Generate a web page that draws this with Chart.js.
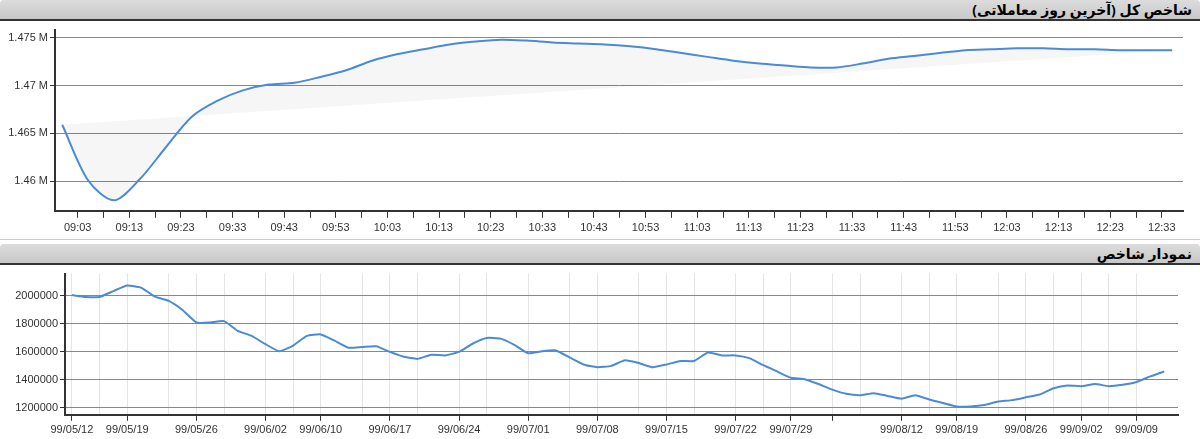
<!DOCTYPE html>
<html><head><meta charset="utf-8">
<script src="https://cdn.jsdelivr.net/npm/chart.js@4"></script>
<style>
body{margin:0;background:#fff;font-family:"Liberation Sans",Arial,sans-serif;width:1200px;height:439px;overflow:hidden}
.hdr{height:19px;background:linear-gradient(#dcdcdc,#c8c8c8);border-bottom:2px solid #333;border-radius:4px 4px 0 0;text-align:right;padding-right:8px;font:bold 14px "Noto Sans","DejaVu Sans",sans-serif;line-height:19px;color:#000;direction:rtl;box-sizing:border-box;height:21px}
.wrap{position:relative}
</style></head><body>
<div class="hdr">شاخص کل (آخرین روز معاملاتی)</div>
<div class="wrap" style="height:218px"><canvas id="c1" width="1200" height="218"></canvas></div>
<div style="height:4px;border-top:1px solid #ccc"></div>
<div class="hdr">نمودار شاخص</div>
<div class="wrap" style="height:175px"><canvas id="c2" width="1200" height="175"></canvas></div>
<script>
// Intraday (minutes since midnight, every 5 minutes from 09:00)
const intradayStartMin = 540;
const intradayStepMin = 5;
const intradayValues = [1465900,1460100,1458000,1460200,1463500,1466700,1468400,1469500,1470100,1470300,1470900,1471600,1472600,1473300,1473800,1474300,1474600,1474800,1474700,1474500,1474400,1474300,1474100,1473800,1473400,1473000,1472600,1472300,1472100,1471900,1471900,1472300,1472800,1473100,1473400,1473700,1473800,1473900,1473900,1473800,1473800,1473700,1473700,1473700];
const intradayTickStart = 543;

// Daily index
const dailyValues = [2007000,1993000,1993000,2035000,2075000,2060000,1995000,1965000,1900000,1810000,1810000,1820000,1750000,1715000,1655000,1605000,1645000,1715000,1725000,1680000,1630000,1635000,1640000,1600000,1565000,1550000,1580000,1575000,1600000,1660000,1700000,1695000,1650000,1590000,1605000,1610000,1560000,1510000,1490000,1500000,1540000,1520000,1490000,1510000,1535000,1535000,1595000,1575000,1575000,1555000,1505000,1460000,1415000,1405000,1370000,1330000,1300000,1290000,1305000,1285000,1265000,1290000,1260000,1235000,1210000,1210000,1220000,1245000,1255000,1275000,1295000,1340000,1360000,1355000,1370000,1355000,1365000,1385000,1425000,1460000];
const dailyTickIdx = [0,4,9,14,18,23,28,33,38,43,48,52,55,60,64,69,73,77];
const dailyTickLabels = ['99/05/12','99/05/19','99/05/26','99/06/02','99/06/10','99/06/17','99/06/24','99/07/01','99/07/08','99/07/15','99/07/22','99/07/29','','99/08/12','99/08/19','99/08/26','99/09/02','99/09/09'];
const dailyGridIdx = [2,7,11,16,21,25,30,36,41,45,50,57,62,67,71,75];

const fmtTime = m => String(Math.floor(m/60)).padStart(2,'0')+':'+String(m%60).padStart(2,'0');
const font = {family:'"Liberation Sans", Arial, sans-serif', size:11};
const pts = intradayValues.map((v,i)=>({x:intradayStartMin+i*intradayStepMin,y:v}));
const lastX = intradayStartMin+(intradayValues.length-1)*intradayStepMin;

new Chart(document.getElementById('c1'),{
  type:'line',
  data:{datasets:[
    {data:pts,borderColor:'#4a8ad8',borderWidth:2,pointRadius:0,tension:0.3,fill:'+1',backgroundColor:'rgba(0,0,0,0.035)'},
    {data:[pts[0],pts[pts.length-1]],borderWidth:0,borderColor:'transparent',pointRadius:0,fill:false}
  ]},
  options:{responsive:false,animation:false,layout:{padding:{top:6,right:17,left:0,bottom:0}},
    plugins:{legend:{display:false},tooltip:{enabled:false}},
    scales:{
      x:{type:'linear',min:538.6,max:757.1,
        afterBuildTicks:s=>{const t=[];for(let v=intradayTickStart;v<=s.max;v+=5)t.push({value:v});s.ticks=t;},
        ticks:{autoSkip:false,maxRotation:0,color:'#333',font,padding:4,callback:v=>((v-intradayTickStart)%10===0?fmtTime(v):'')},
        grid:{drawOnChartArea:false,tickLength:7,tickColor:'#333'},border:{color:'#333',width:2}},
      y:{min:1456910,max:1475850,afterFit:s=>{s.width=55},
        afterBuildTicks:s=>{s.ticks=[1460000,1465000,1470000,1475000].map(v=>({value:v}))},
        ticks:{color:'#333',font,padding:2,callback:v=>(v/1e6)+' M'},
        grid:{color:'#888',tickLength:5,tickColor:'#333'},border:{color:'#333',width:2}}
    }}
});

const dPts = dailyValues.map((v,i)=>({x:i,y:v}));
const tickMap = {}; dailyTickIdx.forEach((v,i)=>tickMap[v]=dailyTickLabels[i]);
new Chart(document.getElementById('c2'),{
  type:'line',
  data:{datasets:[{data:dPts,borderColor:'#4a8ad8',borderWidth:2,pointRadius:0,tension:0.15,fill:false}]},
  options:{responsive:false,animation:false,layout:{padding:{top:8,right:22,left:0,bottom:0}},
    plugins:{legend:{display:false},tooltip:{enabled:false}},
    scales:{
      x:{type:'linear',min:-0.5,max:80,
        afterBuildTicks:s=>{s.ticks=[...dailyTickIdx,...dailyGridIdx].sort((a,b)=>a-b).map(v=>({value:v}));},
        ticks:{autoSkip:false,maxRotation:0,color:'#333',font,padding:3,callback:v=>(tickMap[v]!==undefined?tickMap[v]:'')},
        grid:{color:'#e4e4e4',tickLength:6,tickColor:c=>(c.tick&&tickMap[c.tick.value]!==undefined?'#333':'transparent')},border:{color:'#333',width:2}},
      y:{min:1150000,max:2160000,afterFit:s=>{s.width=65},
        afterBuildTicks:s=>{s.ticks=[1200000,1400000,1600000,1800000,2000000].map(v=>({value:v}))},
        ticks:{color:'#333',font,padding:2,callback:v=>String(v)},
        grid:{color:'#888',tickLength:5,tickColor:'#333'},border:{color:'#333',width:2}}
    }}
});
</script>
</body></html>
